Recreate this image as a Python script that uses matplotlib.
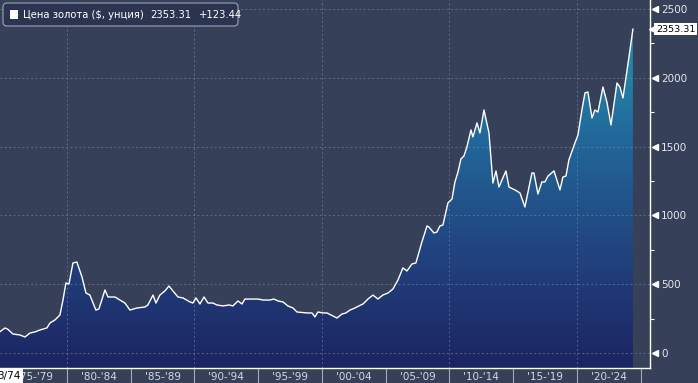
import numpy as np
from matplotlib import pyplot as plt
from matplotlib.colors import LinearSegmentedColormap
from matplotlib.patches import FancyBboxPatch, Rectangle

# цена золота, $ за унцию
years = [1974.75, 1975.14, 1975.37, 1975.76, 1976.31, 1976.71, 1977.10, 1977.49, 1977.88,
         1978.43, 1978.67, 1979.06, 1979.45, 1979.69, 1979.92, 1980.16, 1980.47, 1980.78,
         1981.18, 1981.49, 1981.80, 1982.27, 1982.51, 1982.98, 1983.22, 1983.76, 1984.16,
         1984.55, 1984.94, 1985.49, 1986.12, 1986.35, 1986.75, 1986.98, 1987.29, 1987.69,
         1988.00, 1988.31, 1988.71, 1989.10, 1989.65, 1989.88, 1990.12, 1990.43, 1990.75,
         1991.06, 1991.45, 1991.76, 1992.24, 1992.71, 1993.02, 1993.41, 1993.73, 1993.96,
         1994.51, 1994.98, 1995.37, 1995.92, 1996.24, 1996.55, 1996.94, 1997.33, 1997.73,
         1998.04, 1998.82, 1999.22, 1999.45, 1999.69, 2000.08, 2000.39, 2000.71, 2001.18,
         2001.57, 2001.88, 2002.20, 2002.59, 2002.90, 2003.22, 2003.61, 2004.00, 2004.39,
         2004.78, 2005.18, 2005.57, 2005.96, 2006.35, 2006.67, 2007.06, 2007.37, 2007.84,
         2008.24, 2008.39, 2008.78, 2009.02, 2009.25, 2009.49, 2009.88, 2010.20, 2010.43,
         2010.67, 2010.90, 2011.14, 2011.37, 2011.69, 2011.84, 2012.16, 2012.39, 2012.71,
         2013.10, 2013.41, 2013.65, 2013.88, 2014.43, 2014.67, 2015.14, 2015.53, 2015.92,
         2016.47, 2016.63, 2016.94, 2017.25, 2017.49, 2017.73, 2018.20, 2018.67, 2018.90,
         2019.14, 2019.37, 2019.84, 2020.08, 2020.39, 2020.63, 2020.86, 2021.18, 2021.41,
         2021.65, 2022.04, 2022.35, 2022.67, 2023.14, 2023.37, 2023.61, 2024.00, 2024.39]
prices = [155, 182, 172, 138, 131, 116, 145, 153, 167,
          182, 218, 240, 276, 385, 509, 501, 654, 661,
          552, 436, 421, 312, 320, 458, 407, 407, 385,
          363, 312, 327, 334, 349, 421, 363, 421, 451,
          487, 451, 407, 400, 371, 363, 400, 356, 407,
          363, 363, 349, 342, 349, 342, 378, 356, 392,
          392, 392, 385, 385, 392, 378, 371, 342, 327,
          298, 291, 291, 262, 298, 291, 291, 276, 254,
          283, 291, 312, 327, 342, 356, 392, 421, 392,
          421, 436, 465, 530, 618, 596, 647, 654, 807,
          923, 916, 872, 879, 923, 930, 1090, 1119, 1243,
          1315, 1410, 1432, 1497, 1621, 1570, 1672, 1599, 1766,
          1599, 1235, 1323, 1206, 1323, 1206, 1185, 1163, 1061,
          1308, 1308, 1155, 1243, 1243, 1286, 1323, 1185, 1279,
          1286, 1403, 1526, 1584, 1766, 1890, 1897, 1708, 1766,
          1751, 1933, 1824, 1657, 1962, 1933, 1853, 2100, 2353.31]

last_price = 2353.31
change = 123.44
series_name = 'Цена золота ($, унция)'
start_label = '3/74'
period_starts = [1975, 1980, 1985, 1990, 1995, 2000, 2005, 2010, 2015, 2020]
period_labels = ["'75-'79", "'80-'84", "'85-'89", "'90-'94", "'95-'99",
                 "'00-'04", "'05-'09", "'10-'14", "'15-'19", "'20-'24"]
y_ticks = [0, 500, 1000, 1500, 2000, 2500]

bg = '#364059'
grid_c = '#7d879e'
plt.rcParams['font.family'] = ['DejaVu Sans']

fig = plt.figure(figsize=(6.98, 3.83), dpi=100)
fig.patch.set_facecolor(bg)
ax = fig.add_axes([0, 15 / 383, 650 / 698, 368 / 383])
ax.set_facecolor(bg)

x0, x1 = 1974.75, 2025.73
y0, y1 = -109, 2565

# заливка с вертикальным градиентом
poly = ax.fill_between(years, prices, y0, color='none', lw=0)
cmap = LinearSegmentedColormap.from_list('gold', ['#1c2462', '#21437f', '#21689a', '#2595b3'])
grad = np.linspace(0, 1, 256).reshape(-1, 1)
im = ax.imshow(grad, extent=[x0, x1, y0, 2400], origin='lower', aspect='auto',
               cmap=cmap, zorder=1)
im.set_clip_path(poly.get_paths()[0], transform=ax.transData)
ax.plot(years, prices, color='white', lw=1.0, zorder=3)

ax.set_xlim(x0, x1)
ax.set_ylim(y0, y1)

# сетка
for v in y_ticks:
    ax.axhline(v, color=grid_c, lw=0.7, ls=(0, (2, 2.5)), alpha=0.6, zorder=2)
for yr in [1980, 1990, 2000, 2010, 2020]:
    ax.axvline(yr, color=grid_c, lw=0.7, ls=(0, (2, 2.5)), alpha=0.6, zorder=2)

# оси
for s in ['top', 'left']:
    ax.spines[s].set_visible(False)
for s in ['right', 'bottom']:
    ax.spines[s].set_color('white')
    ax.spines[s].set_linewidth(1.0)

ax.set_xticks(period_starts[1:] + [2025])
ax.set_xticklabels([])
ax.tick_params(axis='x', which='major', length=11, width=0.8, color='#a3a9b8', direction='out')
mids = [p + 2.5 for p in period_starts]
ax.set_xticks(mids, minor=True)
ax.set_xticklabels(period_labels, minor=True)
ax.tick_params(axis='x', which='minor', length=0, pad=3, labelsize=7.5, labelcolor='#d4d8e2')

ax.yaxis.tick_right()
ax.set_yticks(y_ticks)
ax.set_yticklabels([str(v) for v in y_ticks])
ax.set_yticks([v + 250 for v in y_ticks[:-1]], minor=True)
ax.tick_params(axis='y', which='major', length=0, pad=8, labelsize=7.5, labelcolor='#e4e7ee')
ax.tick_params(axis='y', which='minor', length=3, width=0.8, color='white', direction='out')
ax.plot(np.full(len(y_ticks), 1.008), y_ticks, marker='<', ls='none', color='white', ms=4,
        transform=ax.get_yaxis_transform(), clip_on=False, zorder=5)

# метка последнего значения
ax.plot([1.0055], [last_price], marker='<', color='white', ms=7,
        transform=ax.get_yaxis_transform(), clip_on=False, zorder=5)
ax.text(1.009, last_price, f'{last_price:.2f}', transform=ax.get_yaxis_transform(),
        ha='left', va='center', fontsize=6.8, color='black', zorder=6,
        bbox=dict(boxstyle='square,pad=0.15', fc='white', ec='none'))

# легенда
box = FancyBboxPatch((0.03, 3.83 - 0.26), 2.35, 0.23, boxstyle='round,pad=0,rounding_size=0.04',
                     transform=fig.dpi_scale_trans, fc='#2c3550', ec='#9aa2b5', lw=0.8, zorder=10)
fig.patches.append(box)
fig.patches.append(Rectangle((0.10, 3.83 - 0.185), 0.08, 0.08, transform=fig.dpi_scale_trans,
                             fc='white', ec='none', zorder=11))
ty = 1 - 14.5 / 383
fig.text(23 / 698, ty, series_name, color='white', fontsize=7.2, va='center', zorder=12)
fig.text(150 / 698, ty, f'{last_price:.2f}', color='white', fontsize=7.2, va='center', zorder=12)
fig.text(199 / 698, ty, f'+{change:.2f}', color='white', fontsize=7.2, va='center', zorder=12)

# дата начала
fig.text(21 / 698, 7 / 383, start_label, ha='right', va='center', fontsize=7.5, color='black',
         zorder=12, bbox=dict(boxstyle='square,pad=0.2', fc='white', ec='none'))

fig.savefig('out.png', dpi=100, facecolor=bg)
